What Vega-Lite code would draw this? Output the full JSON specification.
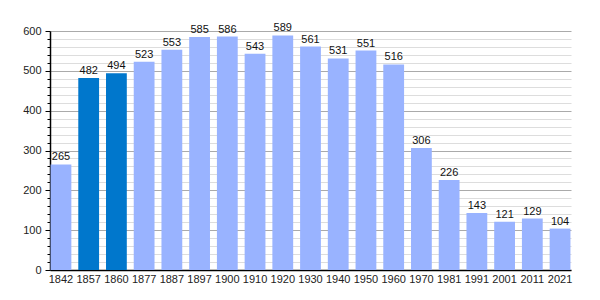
{
  "$schema": "https://vega.github.io/schema/vega-lite/v6.json",
  "width": 521,
  "height": 239,
  "autosize": {"type": "none"},
  "padding": {"left": 50, "top": 31, "right": 29, "bottom": 30},
  "background": "white",
  "config": {
    "view": {"stroke": null},
    "font": "Liberation Sans",
    "axis": {"labelFont": "Liberation Sans", "labelFontSize": 11, "labelColor": "#222", "domainColor": "#000", "tickColor": "#000"}
  },
  "data": {"values": [
    {"year": "1842", "pop": 265},
    {"year": "1857", "pop": 482},
    {"year": "1860", "pop": 494},
    {"year": "1877", "pop": 523},
    {"year": "1887", "pop": 553},
    {"year": "1897", "pop": 585},
    {"year": "1900", "pop": 586},
    {"year": "1910", "pop": 543},
    {"year": "1920", "pop": 589},
    {"year": "1930", "pop": 561},
    {"year": "1940", "pop": 531},
    {"year": "1950", "pop": 551},
    {"year": "1960", "pop": 516},
    {"year": "1970", "pop": 306},
    {"year": "1981", "pop": 226},
    {"year": "1991", "pop": 143},
    {"year": "2001", "pop": 121},
    {"year": "2011", "pop": 129},
    {"year": "2021", "pop": 104}
  ]},
  "encoding": {
    "x": {"field": "year", "type": "ordinal", "sort": null,
      "scale": {"paddingInner": 0.25, "paddingOuter": 0.02},
      "axis": {"title": null, "labelAngle": 0, "ticks": false, "labelPadding": 3, "domainWidth": 1.5}},
    "y": {"field": "pop", "type": "quantitative",
      "scale": {"domain": [0, 600], "nice": false},
      "axis": {"title": null, "values": [0,20,40,60,80,100,120,140,160,180,200,220,240,260,280,300,320,340,360,380,400,420,440,460,480,500,520,540,560,580,600],
        "labelExpr": "datum.value % 100 == 0 ? datum.label : ''",
        "grid": true,
        "gridColor": {"condition": {"test": "datum.value % 100 == 0", "value": "#aaaaaa"}, "value": "#dddddd"},
        "tickSize": {"condition": {"test": "datum.value % 100 == 0", "value": 5}, "value": 3},
        "labelPadding": 4, "domainWidth": 1.5}}
  },
  "layer": [
    {"mark": {"type": "bar"},
     "encoding": {"color": {"condition": {"test": "datum.year == '1857' || datum.year == '1860'", "value": "#0077cc"}, "value": "#99b3ff"}}},
    {"mark": {"type": "text", "dy": -7, "fontSize": 11, "color": "#111", "font": "Liberation Sans"},
     "encoding": {"text": {"field": "pop", "type": "quantitative"}}}
  ]
}
